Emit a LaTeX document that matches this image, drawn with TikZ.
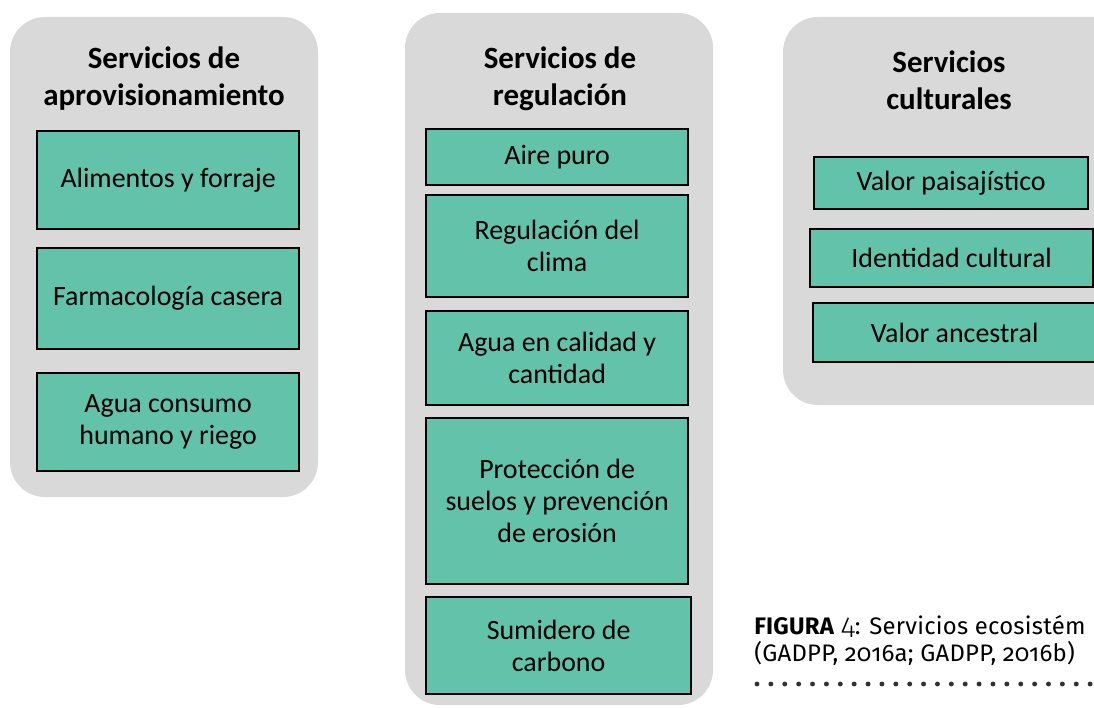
\documentclass[tikz,border=0pt]{standalone}
\usepackage{fontspec}
\setmainfont{Carlito}
\newfontfamily\capfont[Numbers=OldStyle, LetterSpace=1]{Fira Sans}
\newfontfamily\capfontlight[Numbers=OldStyle]{Fira Sans Light}
\definecolor{panelgray}{RGB}{217,217,217}
\definecolor{boxteal}{RGB}{99,194,170}
\definecolor{dotgray}{RGB}{50,50,50}
\begin{document}
\begin{tikzpicture}[x=0.02cm, y=-0.02cm,
	panel/.style={fill=panelgray, rounded corners=0.7cm},
	head/.style={font=\fontsize{17.6}{21}\selectfont\bfseries, align=center},
	item/.style={draw=black, line width=1.3pt, fill=boxteal, anchor=north west, align=center, inner sep=0pt, font=\fontsize{15.9}{18.2}\selectfont},
	capt/.style={anchor=base west, inner sep=0pt, font=\capfont\fontsize{13.6}{16}\selectfont},
	dotline/.style={dotgray, line width=2.8pt, line cap=round, dash pattern=on 0pt off 7.9pt}]
	\clip (0,0) rectangle (1094,709);
	% panels
	\fill[panel] (10,17) rectangle (318,497);
	\fill[panel] (405,13) rectangle (713,705);
	\fill[panel] (783,17) rectangle (1140,405);
	\node[head] (hA) at (164,79) {Servicios de\\aprovisionamiento};
	\node[head] (hR) at (560,79) {Servicios de\\regulación};
	\node[head] (hC) at (949,80) {Servicios\\culturales};
	% aprovisionamiento
	\node[item, minimum width=5.24cm, minimum height=1.96cm] (a1) at (36,130) {Alimentos y forraje};
	\node[item, minimum width=5.24cm, minimum height=2.02cm] (a2) at (36,247) {Farmacología casera};
	\node[item, minimum width=5.24cm, minimum height=1.96cm] (a3) at (36,372) {Agua consumo\\humano y riego};
	% regulacion
	\node[item, minimum width=5.24cm, minimum height=1.12cm] (r1) at (425,128) {Aire puro};
	\node[item, minimum width=5.24cm, minimum height=2.04cm] (r2) at (425,194) {Regulación del\\clima};
	\node[item, minimum width=5.24cm, minimum height=1.88cm] (r3) at (425,310) {Agua en calidad y\\cantidad};
	\node[item, minimum width=5.24cm, minimum height=3.32cm] (r4) at (425,417) {Protección de\\suelos y prevención\\de erosión};
	\node[item, minimum width=5.30cm, minimum height=1.94cm] (r5) at (425,596) {Sumidero de\\carbono};
	% culturales
	\node[item, minimum width=5.48cm, minimum height=1.04cm] (c1) at (813,156) {Valor paisajístico};
	\node[item, minimum width=5.66cm, minimum height=1.16cm] (c2) at (809,228) {Identidad cultural};
	\node[item, minimum width=5.66cm, minimum height=1.18cm] (c3) at (812,302) {Valor ancestral};
	% caption
	\node[capt] (cap1) at (754,634) {\textbf{FIGURA} {\capfontlight\fontsize{16.5}{16}\selectfont 4}: Servicios ecosistém};
	\node[capt] (cap2) at (754,661) {(GADPP, 2016a; GADPP, 2016b)};
	\draw[dotline] (cap2.base west) ++(3,23) -- +(345,0);
\end{tikzpicture}
\end{document}
